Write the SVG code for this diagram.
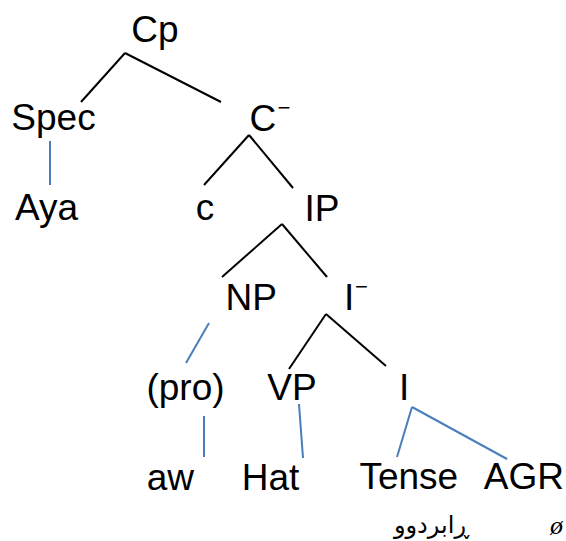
<svg xmlns="http://www.w3.org/2000/svg" width="566" height="541" viewBox="0 0 566 541">
<style>
.t{font-family:"Liberation Sans",Arial,sans-serif;font-size:37px;fill:#000;text-anchor:middle}
.k{stroke:#000;stroke-width:2;fill:none}
.b{stroke:#4A7EBB;stroke-width:2;fill:none}
.s{font-family:"DejaVu Sans","Liberation Sans",sans-serif;font-size:24px;fill:#000}
</style>
<rect width="566" height="541" fill="#fff"/>
<g id="connectors">
<line class="k" x1="125" y1="53" x2="81" y2="102"/>
<line class="k" x1="125" y1="53" x2="221" y2="102"/>
<line class="k" x1="249" y1="135" x2="204" y2="185"/>
<line class="k" x1="249" y1="135" x2="293" y2="188"/>
<line class="k" x1="282" y1="224" x2="222" y2="277"/>
<line class="k" x1="282" y1="224" x2="327" y2="277"/>
<line class="k" x1="326" y1="314" x2="289" y2="369"/>
<line class="k" x1="326" y1="314" x2="386" y2="366"/>
<line class="b" x1="50" y1="141" x2="50" y2="185"/>
<line class="b" x1="209" y1="323" x2="186" y2="363"/>
<line class="b" x1="204" y1="416" x2="204" y2="457"/>
<line class="b" x1="299" y1="404" x2="303" y2="458"/>
<line class="b" x1="412" y1="407" x2="397" y2="457"/>
<line class="b" x1="412" y1="407" x2="507" y2="459"/>
</g>
<g id="node-cp"><text class="t" x="155" y="42">Cp</text></g>
<g id="node-spec"><text class="t" x="53.5" y="130">Spec</text></g>
<g id="node-cbar"><text class="t" x="249.5" y="131" style="text-anchor:start">C<tspan x="277.5" y="115" font-size="22">−</tspan></text></g>
<g id="node-aya"><text class="t" x="46.5" y="220">Aya</text></g>
<g id="node-c"><text class="t" x="205" y="220">c</text></g>
<g id="node-ip"><text class="t" x="322" y="221">IP</text></g>
<g id="node-np"><text class="t" x="251.3" y="310">NP</text></g>
<g id="node-ibar"><text class="t" x="344" y="310" style="text-anchor:start">I<tspan x="355" y="294" font-size="22">−</tspan></text></g>
<g id="node-pro"><text class="t" x="185.5" y="400">(pro)</text></g>
<g id="node-vp"><text class="t" x="292" y="400">VP</text></g>
<g id="node-i"><text class="t" x="404.2" y="400">I</text></g>
<g id="node-aw"><text class="t" x="170.3" y="490">aw</text></g>
<g id="node-hat"><text class="t" x="270.5" y="490">Hat</text></g>
<g id="node-tense"><text class="t" x="408.8" y="489">Tense</text></g>
<g id="node-agr"><text class="t" x="523.8" y="489">AGR</text></g>
<g id="note-past"><text class="s" x="431.5" y="533" text-anchor="middle">ڕابردوو</text></g>
<g id="note-null"><text x="556.5" y="534" text-anchor="middle" style="font-family:'Liberation Serif','Times New Roman',serif;font-style:italic;font-size:26px">ø</text></g>
</svg>
